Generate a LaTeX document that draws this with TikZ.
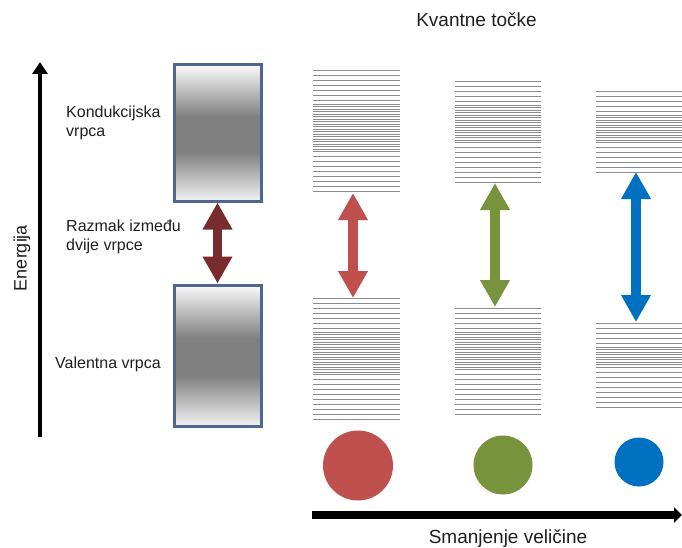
\documentclass[tikz,border=0pt]{standalone}
\usepackage{fontspec}
\setmainfont{Liberation Sans}
\usetikzlibrary{arrows.meta}

\definecolor{dotred}{HTML}{C0504D}
\definecolor{dotgreen}{HTML}{77933C}
\definecolor{dotblue}{HTML}{0070C0}
\definecolor{gapred}{HTML}{7A2B2B}
\definecolor{bandframe}{HTML}{4F6690}
\definecolor{levelgray}{HTML}{8C8C8C}
\definecolor{textgray}{HTML}{1E1E1E}

\pgfdeclareverticalshading{bandshade}{100bp}{color(0bp)=(white!90!gray); color(25bp)=(white!90!gray);
  color(43bp)=(black!50); color(56bp)=(black!50); color(75bp)=(white!96!gray); color(100bp)=(white!96!gray)}

% one stack of levels: x1, x2, top y, sparse lines, dense lines, sparse lines
\newcommand{\levelstack}[6]{%
  \pgfmathsetmacro{\ydense}{#3+5*(#4-1)+4}
  \pgfmathsetmacro{\ylow}{\ydense+2.5*(#5-1)+5}
  \foreach \i in {1,...,#4} \draw[level] (#1,{#3+5*(\i-1)}) -- (#2,{#3+5*(\i-1)});
  \foreach \i in {1,...,#5} \draw[level] (#1,{\ydense+2.5*(\i-1)}) -- (#2,{\ydense+2.5*(\i-1)});
  \foreach \i in {1,...,#6} \draw[level] (#1,{\ylow+5*(\i-1)}) -- (#2,{\ylow+5*(\i-1)});
}

\begin{document}
\begin{tikzpicture}[x=1pt,y=-1pt,
    level/.style={draw=levelgray,line width=0.9pt},
    band/.style={draw=bandframe,line width=3pt,shading=bandshade,minimum width=87pt},
    label/.style={text=textgray,font=\fontsize{16}{19}\selectfont,align=left,anchor=base west,inner sep=0pt},
    gap arrow/.style={line width=9.5pt,{Triangle[width=28pt,length=27pt]}-{Triangle[width=28pt,length=27pt]}},
    dot/.style={circle,inner sep=0pt}]

  \useasboundingbox (0,0) rectangle (682,548);

  % energy axis
  \coordinate (e0) at (40,437);
  \coordinate (e1) at (40,62);
  \draw[line width=4.5pt,-{Triangle[width=15pt,length=12pt]}] (e0) -- (e1);
  \node[text=textgray,font=\fontsize{18}{20}\selectfont,rotate=90] (energy) at (22,258) {Energija};

  % bulk bands
  \node[band,minimum height=136pt] (cb) at (217.5,133) {};
  \node[band,minimum height=141pt] (vb) at (217.5,355.5) {};
  \draw[gap arrow,draw=gapred,fill=gapred] (cb.south) -- (vb.north);

  \node[label] (cblabel) at (66,136.5) {Kondukcijska\\vrpca};
  \node[label] (gaplabel) at (66,250) {Razmak između\\dvije vrpce};
  \node[label] (vblabel) at (55,368) {Valentna vrpca};

  % quantum dots
  \node[text=textgray,font=\fontsize{19}{22}\selectfont,anchor=base] (qd) at (476.5,27) {Kvantne točke};

  \levelstack{313}{400}{70}{7}{20}{8}
  \levelstack{313}{400}{298}{7}{18}{9}
  \levelstack{455}{541}{81}{5}{16}{8}
  \levelstack{455}{541}{308}{5}{16}{9}
  \levelstack{596}{682}{91}{5}{12}{6}
  \levelstack{596}{682}{323}{5}{9}{8}

  \coordinate (rtop) at (353,193);
  \coordinate (rbot) at (353,298);
  \coordinate (gtop) at (495,183);
  \coordinate (gbot) at (495,307);
  \coordinate (btop) at (636,172);
  \coordinate (bbot) at (636,322);
  \draw[gap arrow,draw=dotred,fill=dotred] (rtop) -- (rbot);
  \draw[gap arrow,draw=dotgreen,fill=dotgreen] (gtop) -- (gbot);
  \draw[gap arrow,draw=dotblue,fill=dotblue,line width=10pt] (btop) -- (bbot);

  \node[dot,fill=dotred,minimum size=70pt] (rdot) at (358,465.5) {};
  \node[dot,fill=dotgreen,minimum size=59pt] (gdot) at (503,465) {};
  \node[dot,fill=dotblue,minimum size=49pt] (bdot) at (639,462) {};

  % size axis
  \coordinate (s0) at (312,515);
  \coordinate (s1) at (682,515);
  \draw[line width=7.5pt,-{Triangle[width=15pt,length=8pt]}] (s0) -- (s1);
  \node[text=textgray,font=\fontsize{19}{22}\selectfont,anchor=base] (size) at (508,543) {Smanjenje veličine};

\end{tikzpicture}
\end{document}
